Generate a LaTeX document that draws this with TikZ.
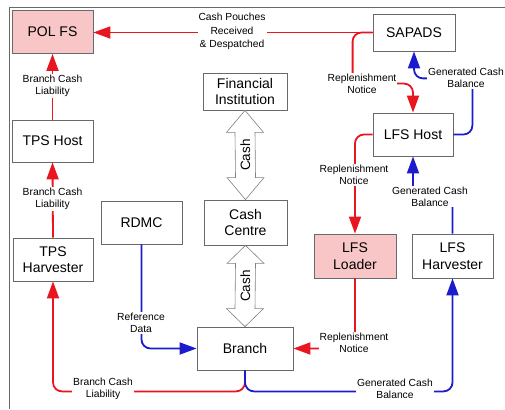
\documentclass[tikz,border=0pt]{standalone}
\usepackage{fontspec}
\setmainfont{Liberation Sans}
\usetikzlibrary{arrows.meta,calc}
\definecolor{cred}{RGB}{232,22,30}
\definecolor{cblue}{RGB}{28,28,205}
\definecolor{cpink}{RGB}{248,198,198}
\definecolor{cbord}{RGB}{105,105,105}
\begin{document}
\begin{tikzpicture}[x=1pt,y=-1pt,
  box/.style={draw=cbord,line width=0.8pt,fill=white,minimum width=81pt,minimum height=43pt,inner sep=0pt,align=center,font=\fontsize{14}{16.5}\selectfont},
  pinkbox/.style={box,fill=cpink},
  lab/.style={fill=white,inner sep=1pt,align=center,font=\fontsize{10.3}{12}\selectfont},
  rl/.style={draw=cred,line width=1.8pt,rounded corners=9pt,-{Triangle[length=17pt,width=12pt]}},
  bl/.style={draw=cblue,line width=1.8pt,rounded corners=9pt,-{Triangle[length=17pt,width=12pt]}},
  casharrow/.style={draw=cbord!85,fill=white,line width=0.6pt,line join=miter},
  cashlab/.style={rotate=90,inner sep=0pt,font=\fontsize{13.5}{14}\selectfont}]
\useasboundingbox (0,0) rectangle (505,409);
\draw[cbord,line width=0.8pt] (9,409) -- (9,7) -- (505,7);

% boxes
\node[pinkbox] (polfs) at (52.5,32) {POL FS};
\node[box,minimum width=82pt,minimum height=37pt] (sapads) at (414,32.5) {SAPADS};
\node[box,minimum width=84pt,minimum height=37pt] (fi) at (245,91.5) {Financial\\Institution};
\node[box,minimum width=80pt] (lfshost) at (413,134.5) {LFS Host};
\node[box,minimum height=42pt] (tpshost) at (52.5,141) {TPS Host};
\node[box,minimum width=80pt] (tpsharv) at (53,259.5) {TPS\\Harvester};
\node[box] (rdmc) at (141.5,222.5) {RDMC};
\node[box,minimum width=83pt,minimum height=45pt] (cc) at (245.5,222.5) {Cash\\Centre};
\node[pinkbox,minimum width=82pt,minimum height=44pt] (lfsloader) at (355,256) {LFS\\Loader};
\node[box,minimum height=44pt] (lfsharv) at (452.5,256) {LFS\\Harvester};
\node[box,minimum width=96pt] (branch) at (245,348.5) {Branch};

% cash double arrows
\draw[casharrow] (fi.south) -- ++(18.5,22) -- ++(-8.5,0) -- ($(cc.north)+(10,-22)$) -- ++(8.5,0) -- (cc.north)
  -- ++(-18.5,-22) -- ++(8.5,0) -- ($(fi.south)+(-10,22)$) -- ++(-8.5,0) -- cycle;
\node[cashlab] (cash1) at ($(fi.south)!0.5!(cc.north)$) {Cash};
\draw[casharrow] (cc.south) -- ++(18.5,18) -- ++(-8.5,0) -- ($(branch.north)+(10,-18)$) -- ++(8.5,0) -- (branch.north)
  -- ++(-18.5,-18) -- ++(8.5,0) -- ($(cc.south)+(-10,18)$) -- ++(-8.5,0) -- cycle;
\node[cashlab] (cash2) at ($(cc.south)!0.5!(branch.north)$) {Cash};

% connectors
\draw[rl] (sapads.west) -- (sapads.west -| polfs.east);
\draw[rl] (tpshost.north) -- (polfs.south);
\draw[rl] (tpsharv.north) -- (tpshost.south);
\draw[rl] (branch.south) -- ++(0,21) -| (tpsharv.south);
\draw[bl] (branch.south) -- ++(0,21) -| (lfsharv.south);
\draw[bl] (rdmc.south) |- (branch.west);
\draw[rl] (lfsloader.south) |- (branch.east);
\draw[rl] (sapads.west) -- ++(-20,0) |- ($(lfshost.north)+(0,-29)$) -- (lfshost.north);
\draw[rl] (lfshost.west) -| (lfsloader.north);
\draw[bl] (lfshost.east) -- ++(19,0) |- ($(sapads.south)+(0,27)$) -- (sapads.south);
\draw[bl] (lfsharv.north) |- ($(lfshost.south)+(0,40)$) -- (lfshost.south);

% labels
\node[lab,font=\fontsize{10.3}{13.5}\selectfont] (l1) at (232,31.5) {Cash Pouches\\Received\\\& Despatched};
\node[lab] (l2) at (52.5,86) {Branch Cash\\Liability};
\node[lab] (l3) at (52.5,199) {Branch Cash\\Liability};
\node[lab] (l4) at (103,389) {Branch Cash\\Liability};
\node[lab] (l5) at (395,389) {Generated Cash\\Balance};
\node[lab] (l6) at (141,323) {Reference\\Data};
\node[lab] (l7) at (354,343) {Replenishment\\Notice};
\node[lab] (l8) at (362,83.5) {Replenishment\\Notice};
\node[lab] (l9) at (466,78) {Generated Cash\\Balance};
\node[lab] (l10) at (354,175) {Replenishment\\Notice};
\node[lab] (l11) at (430,196.5) {Generated Cash\\Balance};
\end{tikzpicture}
\end{document}
